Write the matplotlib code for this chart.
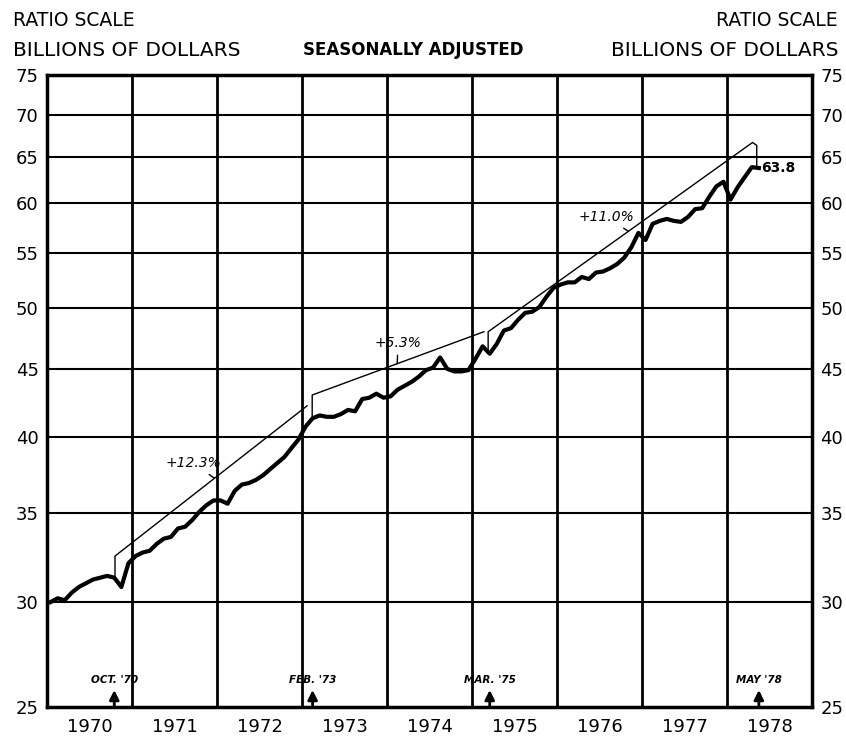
import numpy as np
import matplotlib
matplotlib.use("Agg")
import matplotlib.pyplot as plt
from matplotlib.ticker import NullLocator

plt.rcParams['font.family'] = ['DejaVu Sans']

# ---------------- data ----------------
years = [1970, 1971, 1972, 1973, 1974, 1975, 1976, 1977, 1978]
v1970 = [30.0, 30.2, 30.1, 30.5, 30.8, 31.0, 31.2, 31.3, 31.4, 31.3, 30.8, 32.1]
v1971 = [32.5, 32.7, 32.8, 33.2, 33.5, 33.6, 34.1, 34.2, 34.6, 35.1, 35.5, 35.8]
v1972 = [35.8, 35.6, 36.4, 36.8, 36.9, 37.1, 37.4, 37.8, 38.2, 38.6, 39.2, 39.8]
v1973 = [40.7, 41.3, 41.5, 41.4, 41.4, 41.6, 41.9, 41.8, 42.7, 42.8, 43.1, 42.8]
v1974 = [42.9, 43.4, 43.7, 44.0, 44.4, 44.9, 45.1, 45.9, 45.0, 44.8, 44.8, 44.9]
v1975 = [45.8, 46.8, 46.2, 47.0, 48.1, 48.3, 49.0, 49.6, 49.7, 50.1, 51.0, 51.8]
v1976 = [52.1, 52.3, 52.3, 52.8, 52.6, 53.2, 53.3, 53.6, 54.0, 54.6, 55.6, 57.0]
v1977 = [56.3, 57.9, 58.2, 58.4, 58.2, 58.1, 58.6, 59.4, 59.5, 60.7, 61.8, 62.3]
v1978 = [60.4, 61.7, 62.8, 63.9, 63.8]
yearly_values = [v1970, v1971, v1972, v1973, v1974, v1975, v1976, v1977, v1978]

y_ticks = [25, 30, 35, 40, 45, 50, 55, 60, 65, 70, 75]

# trend segments (annual growth rates)
trend_labels = ["+12.3%", "+5.3%", "+11.0%"]
trend_start_t = [1970.80, 1973.12, 1975.19]
trend_start_v = [32.5, 43.0, 48.0]
trend_end_t = [1973.06, 1975.14, 1978.30]
trend_end_v = [42.2, 48.0, 66.7]
trend_label_t = [1971.72, 1974.13, 1976.58]
trend_label_v = [38.2, 47.1, 58.6]
trend_leader_t = [1971.97, 1974.12, 1976.84]

# turning-point markers
marker_labels = ["OCT. '70", "FEB. '73", "MAR. '75", "MAY '78"]
marker_t = [1970 + 9.5 / 12, 1973 + 1.5 / 12, 1975 + 2.5 / 12, 1978 + 4.5 / 12]

last_label = "63.8"

# ---------------- build series ----------------
t_all, v_all = [], []
for yr, vals in zip(years, yearly_values):
    for m, v in enumerate(vals):
        t_all.append(yr + (m + 0.5) / 12)
        v_all.append(v)
t_all = np.array(t_all)
v_all = np.array(v_all)

W, H = 846, 740
fig = plt.figure(figsize=(W / 100, H / 100), dpi=100)
L, R, T, B = 47, 812, 75, 707
ax = fig.add_axes([L / W, 1 - B / H, (R - L) / W, (B - T) / H])

ax.set_yscale('log')
ax.set_ylim(25, 75)
ax.set_xlim(1970, 1979)

# grid
for yv in y_ticks[1:-1]:
    ax.axhline(yv, color='black', lw=1.5, zorder=1)
for yr in years[1:]:
    ax.axvline(yr, color='black', lw=2.0, zorder=1)

for s in ax.spines.values():
    s.set_linewidth(2.5)

# ticks
ax.set_yticks(y_ticks)
ax.set_yticklabels([str(v) for v in y_ticks])
ax.yaxis.set_minor_locator(NullLocator())
ax.tick_params(axis='y', length=0, labelsize=13, pad=6, labelright=True, right=False)
ax.set_xticks([y + 0.5 for y in years])
ax.set_xticklabels([str(y) for y in years])
ax.xaxis.set_minor_locator(NullLocator())
ax.tick_params(axis='x', length=0, labelsize=13, pad=8)

# main series
ax.plot(t_all, v_all, color='black', lw=3.0, solid_joinstyle='round', zorder=4)

# trend lines
for i in range(3):
    t0, v0, t1, v1 = trend_start_t[i], trend_start_v[i], trend_end_t[i], trend_end_v[i]
    d0 = np.interp(t0, t_all, v_all)
    xs = [t0, t0, t1]
    ys = [d0, v0, v1]
    if i == 2:
        d1 = v_all[-1]
        xs += [t1 + 0.05, t1 + 0.05]
        ys += [v1 * 0.995, d1]
    ax.plot(xs, ys, color='black', lw=1.0, zorder=3)
    # label with little leader
    lt = trend_leader_t[i]
    frac = (lt - t0) / (t1 - t0)
    lv = v0 * (v1 / v0) ** frac
    ax.annotate(trend_labels[i], xy=(lt, lv), xytext=(trend_label_t[i], trend_label_v[i]),
                ha='center', va='center', fontsize=10, fontstyle='italic',
                arrowprops=dict(arrowstyle='-', lw=1.0, color='black',
                                shrinkA=2, shrinkB=0))

ax.text(t_all[-1] + 0.03, v_all[-1], last_label, ha='left', va='center',
        fontsize=10, fontweight='bold', zorder=5)

# bottom markers
for lab, tm in zip(marker_labels, marker_t):
    ax.annotate('', xy=(tm, 25.75), xytext=(tm, 25.0),
                arrowprops=dict(arrowstyle='-|>', lw=2.0, color='black',
                                mutation_scale=14, shrinkA=0, shrinkB=0))
    ax.text(tm, 26.2, lab, ha='center', va='center', fontsize=7.5,
            fontweight='bold', fontstyle='italic')

# header texts
fig.text(13 / W, 1 - 20 / H, "RATIO SCALE", ha='left', va='center', fontsize=13.5)
fig.text(13 / W, 1 - 50 / H, "BILLIONS OF DOLLARS", ha='left', va='center', fontsize=14.5)
fig.text(838 / W, 1 - 20 / H, "RATIO SCALE", ha='right', va='center', fontsize=13.5)
fig.text(838 / W, 1 - 50 / H, "BILLIONS OF DOLLARS", ha='right', va='center', fontsize=14.5)
fig.text(413 / W, 1 - 50 / H, "SEASONALLY ADJUSTED", ha='center', va='center',
         fontsize=12, fontweight='bold')

fig.savefig("out.png", dpi=100)
